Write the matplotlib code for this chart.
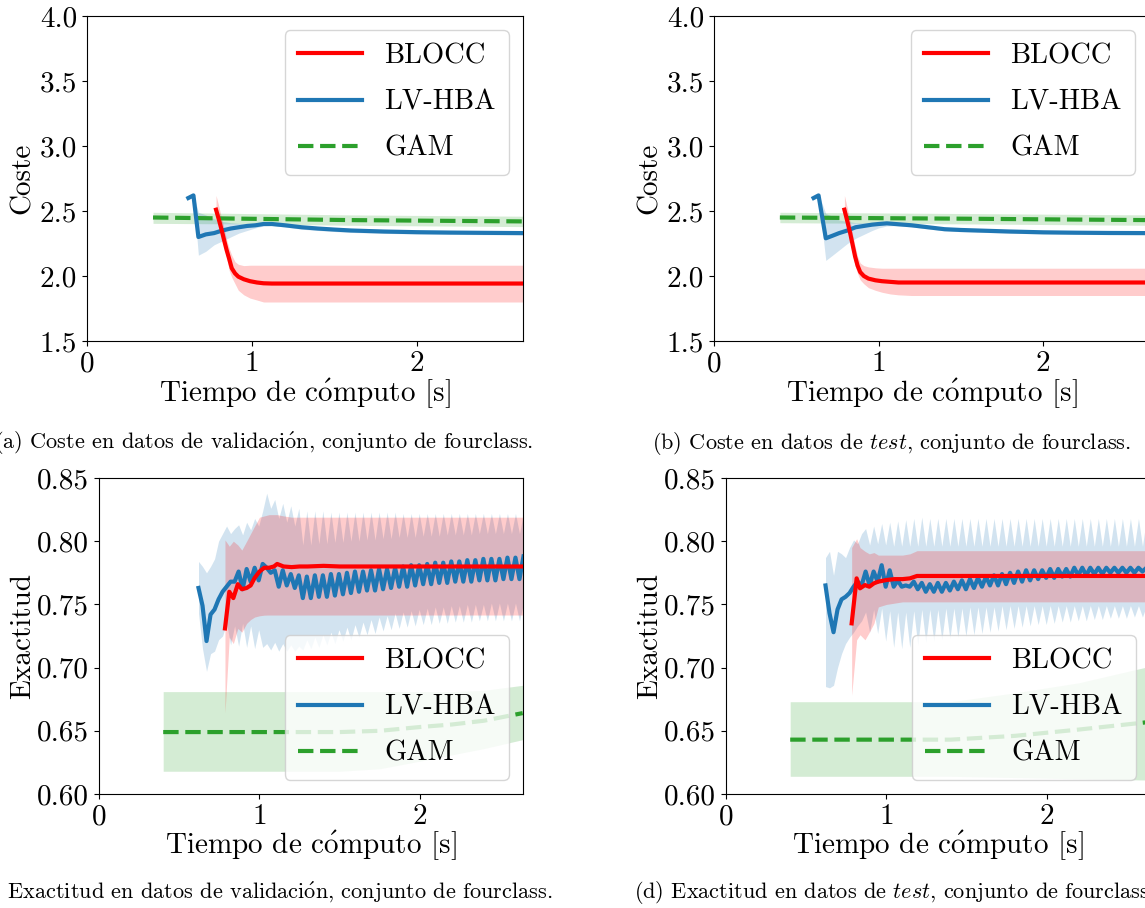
import numpy as np
import matplotlib
matplotlib.use("Agg")
import matplotlib.pyplot as plt

plt.rcParams.update({
    "font.family": "cmr10",
    "mathtext.fontset": "cm",
    "axes.formatter.use_mathtext": True,
    "font.size": 21,
})

RED = "#ff0000"
BLUE = "#1f77b4"
GREEN = "#2ca02c"

# ---------------- (a) Coste, validacion ----------------
a_gam_t = [0.40, 1.0, 1.6, 2.1, 2.64]
a_gam_m = [2.45, 2.44, 2.43, 2.425, 2.42]
a_gam_hi = [2.49, 2.48, 2.47, 2.465, 2.46]
a_gam_lo = [2.405, 2.40, 2.39, 2.385, 2.38]

a_lv_t = [0.614, 0.645, 0.675, 0.72, 0.77, 0.82, 0.87, 0.92, 0.97, 1.02, 1.07,
          1.12, 1.2, 1.3, 1.4, 1.5, 1.6, 1.8, 2.0, 2.2, 2.4, 2.64]
a_lv_m = [2.60, 2.62, 2.30, 2.32, 2.33, 2.35, 2.365, 2.375, 2.385, 2.39, 2.40,
          2.40, 2.39, 2.375, 2.365, 2.357, 2.35, 2.342, 2.337, 2.334, 2.332, 2.33]
a_lv_hi = [2.61, 2.63, 2.49, 2.47, 2.44, 2.42, 2.41, 2.405, 2.40, 2.405, 2.412,
           2.412, 2.403, 2.39, 2.38, 2.372, 2.365, 2.356, 2.35, 2.347, 2.345, 2.343]
a_lv_lo = [2.59, 2.61, 2.16, 2.19, 2.24, 2.27, 2.30, 2.33, 2.35, 2.37, 2.385,
           2.388, 2.377, 2.36, 2.35, 2.342, 2.335, 2.328, 2.323, 2.32, 2.318, 2.316]

a_bl_t = [0.782, 0.80, 0.816, 0.83, 0.846, 0.862, 0.877, 0.897, 0.917, 0.95,
          0.988, 1.03, 1.07, 1.12, 1.2, 1.4, 1.8, 2.2, 2.64]
a_bl_m = [2.51, 2.43, 2.354, 2.28, 2.20, 2.13, 2.06, 2.02, 1.995, 1.975,
          1.96, 1.95, 1.944, 1.942, 1.942, 1.942, 1.942, 1.942, 1.942]
a_bl_hi = [2.62, 2.53, 2.44, 2.37, 2.28, 2.21, 2.16, 2.11, 2.09, 2.08,
           2.083, 2.083, 2.083, 2.083, 2.083, 2.083, 2.083, 2.083, 2.083]
a_bl_lo = [2.46, 2.40, 2.31, 2.24, 2.14, 2.04, 1.99, 1.94, 1.89, 1.855,
           1.83, 1.815, 1.80, 1.80, 1.80, 1.80, 1.80, 1.80, 1.80]

# ---------------- (b) Coste, test ----------------
b_gam_t = [0.40, 1.0, 1.6, 2.1, 2.64]
b_gam_m = [2.45, 2.445, 2.44, 2.435, 2.43]
b_gam_hi = [2.49, 2.485, 2.48, 2.475, 2.47]
b_gam_lo = [2.41, 2.405, 2.40, 2.395, 2.39]

b_lv_t = [0.605, 0.635, 0.679, 0.72, 0.76, 0.81, 0.86, 0.91, 0.96, 1.0, 1.05,
          1.1, 1.2, 1.3, 1.4, 1.5, 1.6, 1.8, 2.0, 2.2, 2.4, 2.64]
b_lv_m = [2.60, 2.62, 2.29, 2.31, 2.33, 2.35, 2.375, 2.385, 2.395, 2.40, 2.405,
          2.40, 2.39, 2.375, 2.36, 2.354, 2.35, 2.342, 2.336, 2.333, 2.331, 2.33]
b_lv_hi = [2.61, 2.63, 2.48, 2.46, 2.43, 2.42, 2.41, 2.41, 2.41, 2.413, 2.418,
           2.413, 2.403, 2.388, 2.373, 2.367, 2.363, 2.355, 2.349, 2.346, 2.344, 2.343]
b_lv_lo = [2.59, 2.61, 2.12, 2.16, 2.20, 2.25, 2.29, 2.32, 2.35, 2.37, 2.385,
           2.387, 2.377, 2.362, 2.347, 2.341, 2.337, 2.329, 2.323, 2.32, 2.318, 2.317]

b_bl_t = [0.792, 0.81, 0.827, 0.842, 0.857, 0.872, 0.888, 0.91, 0.938, 0.98,
          1.02, 1.07, 1.12, 1.2, 1.6, 2.0, 2.64]
b_bl_m = [2.51, 2.42, 2.33, 2.24, 2.15, 2.08, 2.03, 2.00, 1.98, 1.967,
          1.96, 1.955, 1.95, 1.95, 1.95, 1.95, 1.95]
b_bl_hi = [2.62, 2.52, 2.42, 2.32, 2.23, 2.15, 2.10, 2.08, 2.07, 2.063,
           2.06, 2.06, 2.06, 2.06, 2.06, 2.06, 2.06]
b_bl_lo = [2.46, 2.36, 2.26, 2.17, 2.08, 2.02, 1.97, 1.94, 1.91, 1.89,
           1.875, 1.862, 1.855, 1.85, 1.85, 1.85, 1.85]

# ---------------- LV-HBA sampling for accuracy panels ----------------
lv_t0 = 0.62
lv_dt = 0.025

# ---------------- (c) Exactitud, validacion ----------------
c_gam_t = [0.40, 1.0, 1.5, 1.75, 2.0, 2.2, 2.4, 2.64]
c_gam_m = [0.649, 0.649, 0.649, 0.650, 0.653, 0.655, 0.658, 0.664]
c_gam_hi = [0.681, 0.681, 0.681, 0.681, 0.681, 0.681, 0.682, 0.686]
c_gam_lo = [0.618, 0.618, 0.618, 0.620, 0.626, 0.631, 0.636, 0.643]

c_lv_m = [0.763, 0.749, 0.721, 0.742, 0.746, 0.754, 0.760, 0.764, 0.768, 0.768,
          0.776, 0.762, 0.778, 0.768, 0.779, 0.769, 0.782, 0.779, 0.775, 0.777,
          0.764, 0.777, 0.765, 0.774, 0.763, 0.773, 0.755, 0.772, 0.755, 0.773,
          0.756, 0.773, 0.756, 0.774, 0.757, 0.774, 0.758, 0.775, 0.759, 0.776,
          0.760, 0.776, 0.761, 0.777, 0.761, 0.778, 0.762, 0.778, 0.763, 0.779,
          0.764, 0.780, 0.764, 0.781, 0.765, 0.781, 0.766, 0.782, 0.766, 0.783,
          0.767, 0.783, 0.767, 0.784, 0.768, 0.784, 0.768, 0.785, 0.768, 0.785,
          0.769, 0.786, 0.769, 0.786, 0.769, 0.786, 0.770, 0.787, 0.770, 0.787,
          0.770, 0.788]
c_lv_hi = [0.784, 0.780, 0.775, 0.780, 0.786, 0.800, 0.806, 0.812, 0.806, 0.810,
           0.813, 0.805, 0.815, 0.809, 0.818, 0.812, 0.824, 0.838, 0.826, 0.833,
           0.818, 0.830, 0.815, 0.828, 0.812, 0.826, 0.797, 0.824, 0.797, 0.824,
           0.798, 0.824, 0.798, 0.823, 0.799, 0.823, 0.799, 0.823, 0.800, 0.823,
           0.800, 0.823, 0.801, 0.823, 0.801, 0.823, 0.802, 0.823, 0.802, 0.823,
           0.803, 0.822, 0.803, 0.822, 0.803, 0.822, 0.804, 0.822, 0.804, 0.822,
           0.804, 0.822, 0.805, 0.822, 0.805, 0.822, 0.805, 0.822, 0.805, 0.822,
           0.806, 0.822, 0.806, 0.822, 0.806, 0.822, 0.806, 0.822, 0.806, 0.822,
           0.806, 0.822]
c_lv_lo = [0.743, 0.715, 0.697, 0.711, 0.713, 0.722, 0.725, 0.735, 0.718, 0.733,
           0.717, 0.735, 0.716, 0.733, 0.715, 0.730, 0.716, 0.719, 0.714, 0.720,
           0.713, 0.719, 0.713, 0.718, 0.713, 0.717, 0.714, 0.722, 0.715, 0.724,
           0.716, 0.726, 0.718, 0.728, 0.719, 0.730, 0.721, 0.732, 0.722, 0.734,
           0.724, 0.736, 0.726, 0.738, 0.727, 0.740, 0.729, 0.741, 0.730, 0.743,
           0.731, 0.744, 0.732, 0.745, 0.733, 0.746, 0.734, 0.747, 0.734, 0.748,
           0.735, 0.748, 0.735, 0.749, 0.736, 0.749, 0.736, 0.750, 0.736, 0.750,
           0.737, 0.750, 0.737, 0.751, 0.737, 0.751, 0.737, 0.751, 0.737, 0.751,
           0.737, 0.751]

c_bl_t = [0.785, 0.812, 0.837, 0.865, 0.89, 0.92, 0.945, 0.97, 1.0, 1.03, 1.06,
          1.09, 1.11, 1.15, 1.2, 1.25, 1.3, 1.4, 1.5, 1.8, 2.2, 2.64]
c_bl_m = [0.731, 0.760, 0.755, 0.766, 0.762, 0.763, 0.765, 0.771, 0.776, 0.779,
          0.779, 0.780, 0.782, 0.780, 0.7795, 0.780, 0.780, 0.7805, 0.780, 0.780,
          0.780, 0.780]
c_bl_hi = [0.801, 0.796, 0.800, 0.797, 0.793, 0.800, 0.806, 0.812, 0.819, 0.820,
           0.821, 0.821, 0.821, 0.820, 0.819, 0.819, 0.819, 0.819, 0.819, 0.819,
           0.819, 0.819]
c_bl_lo = [0.664, 0.724, 0.719, 0.731, 0.728, 0.735, 0.738, 0.740, 0.741, 0.7415,
           0.7416, 0.7416, 0.7416, 0.7416, 0.7416, 0.7416, 0.7416, 0.7416, 0.7416,
           0.7416, 0.7416, 0.7416]

# ---------------- (d) Exactitud, test ----------------
d_gam_t = [0.40, 1.0, 1.4, 1.8, 2.2, 2.64]
d_gam_m = [0.643, 0.643, 0.643, 0.646, 0.651, 0.657]
d_gam_hi = [0.673, 0.673, 0.673, 0.680, 0.688, 0.701]
d_gam_lo = [0.614, 0.614, 0.614, 0.613, 0.612, 0.611]

d_lv_m = [0.765, 0.743, 0.728, 0.746, 0.754, 0.756, 0.759, 0.764, 0.768, 0.765,
          0.776, 0.765, 0.776, 0.768, 0.781, 0.764, 0.777, 0.764, 0.769, 0.764,
          0.765, 0.764, 0.768, 0.762, 0.767, 0.760, 0.766, 0.760, 0.767, 0.760,
          0.767, 0.761, 0.768, 0.762, 0.769, 0.762, 0.770, 0.763, 0.771, 0.764,
          0.772, 0.765, 0.773, 0.765, 0.774, 0.766, 0.775, 0.767, 0.776, 0.768,
          0.777, 0.769, 0.777, 0.770, 0.777, 0.771, 0.778, 0.771, 0.778, 0.772,
          0.778, 0.772, 0.779, 0.773, 0.779, 0.773, 0.779, 0.774, 0.779, 0.774,
          0.779, 0.775, 0.779, 0.775, 0.779, 0.775, 0.779, 0.775, 0.779, 0.776,
          0.779, 0.776]
d_lv_hi = [0.787, 0.792, 0.773, 0.792, 0.790, 0.787, 0.795, 0.801, 0.798, 0.806,
           0.810, 0.797, 0.812, 0.798, 0.814, 0.797, 0.815, 0.796, 0.816, 0.796,
           0.817, 0.796, 0.818, 0.796, 0.819, 0.796, 0.818, 0.796, 0.818, 0.796,
           0.818, 0.796, 0.818, 0.796, 0.818, 0.796, 0.818, 0.796, 0.818, 0.796,
           0.818, 0.796, 0.818, 0.796, 0.818, 0.796, 0.818, 0.796, 0.818, 0.796,
           0.818, 0.796, 0.818, 0.796, 0.818, 0.796, 0.818, 0.796, 0.818, 0.796,
           0.818, 0.796, 0.818, 0.796, 0.818, 0.796, 0.818, 0.796, 0.818, 0.796,
           0.818, 0.796, 0.818, 0.796, 0.818, 0.796, 0.818, 0.796, 0.818, 0.796,
           0.818, 0.796]
d_lv_lo = [0.685, 0.684, 0.686, 0.700, 0.711, 0.719, 0.724, 0.728, 0.733, 0.737,
           0.744, 0.728, 0.746, 0.727, 0.747, 0.721, 0.745, 0.716, 0.744, 0.715,
           0.744, 0.716, 0.745, 0.718, 0.746, 0.720, 0.746, 0.721, 0.746, 0.722,
           0.747, 0.723, 0.747, 0.724, 0.747, 0.725, 0.748, 0.726, 0.748, 0.727,
           0.748, 0.728, 0.748, 0.729, 0.749, 0.730, 0.749, 0.731, 0.749, 0.732,
           0.749, 0.733, 0.749, 0.734, 0.749, 0.734, 0.749, 0.735, 0.749, 0.736,
           0.749, 0.736, 0.749, 0.737, 0.749, 0.737, 0.749, 0.738, 0.749, 0.738,
           0.749, 0.739, 0.749, 0.739, 0.749, 0.739, 0.749, 0.740, 0.749, 0.740,
           0.749, 0.740]

d_bl_t = [0.783, 0.814, 0.835, 0.866, 0.893, 0.922, 0.949, 1.0, 1.05, 1.1,
          1.146, 1.19, 1.3, 1.6, 2.0, 2.64]
d_bl_m = [0.735, 0.7706, 0.7627, 0.7653, 0.764, 0.7667, 0.768, 0.7693, 0.770,
          0.770, 0.7706, 0.7725, 0.7725, 0.7725, 0.7725, 0.7725]
d_bl_hi = [0.795, 0.802, 0.795, 0.792, 0.790, 0.791, 0.789, 0.789, 0.789, 0.789,
           0.790, 0.7925, 0.7925, 0.7925, 0.7925, 0.7925]
d_bl_lo = [0.678, 0.722, 0.726, 0.722, 0.728, 0.735, 0.748, 0.750, 0.751, 0.752,
           0.752, 0.752, 0.752, 0.752, 0.752, 0.752]

cost_ticks = [1.5, 2.0, 2.5, 3.0, 3.5, 4.0]
acc_ticks = [0.60, 0.65, 0.70, 0.75, 0.80, 0.85]
x_ticks = [0, 1, 2]

captions = [
    r"(a) Coste en datos de validaci$\acute{\mathrm{o}}$n, conjunto de fourclass.",
    r"(b) Coste en datos de $\mathit{test}$, conjunto de fourclass.",
    r"(c) Exactitud en datos de validaci$\acute{\mathrm{o}}$n, conjunto de fourclass.",
    r"(d) Exactitud en datos de $\mathit{test}$, conjunto de fourclass.",
]
xlabel = r"Tiempo de c$\acute{\mathrm{o}}$mputo [s]"

W, H = 1145, 908
fig = plt.figure(figsize=(W / 100, H / 100), dpi=100)


def make_ax(l, r, t, b):
    return fig.add_axes([l / W, 1 - b / H, (r - l) / W, (b - t) / H])


def draw(ax, gam, lv, bl, yticks, fmt, ylabel, loc, ylab_x, xlab_y):
    gt, gm, ghi, glo = gam
    lt, lm, lhi, llo = lv
    bt, bm, bhi, blo = bl
    ax.fill_between(gt, glo, ghi, color=GREEN, alpha=0.2, lw=0, zorder=1)
    ax.fill_between(lt, llo, lhi, color=BLUE, alpha=0.2, lw=0, zorder=1)
    ax.fill_between(bt, blo, bhi, color=RED, alpha=0.2, lw=0, zorder=1)
    hg, = ax.plot(gt, gm, "--", color=GREEN, lw=3, zorder=3, label="GAM")
    hl, = ax.plot(lt, lm, "-", color=BLUE, lw=3, zorder=4, label="LV-HBA")
    hb, = ax.plot(bt, bm, "-", color=RED, lw=3, zorder=5, label="BLOCC")
    ax.set_xlim(0, 2.642)
    ax.set_ylim(yticks[0], yticks[-1])
    ax.set_xticks(x_ticks, labels=[str(v) for v in x_ticks])
    ax.set_yticks(yticks, labels=[fmt.format(v) for v in yticks])
    ax.tick_params(labelsize=21)
    ax.set_xlabel(xlabel, fontsize=21)
    ax.xaxis.set_label_coords(0.5, xlab_y)
    ax.xaxis.label.set_va("center")
    ax.set_ylabel(ylabel, fontsize=21)
    ax.yaxis.set_label_coords(ylab_x, 0.5)
    ax.yaxis.label.set_va("center")
    ax.legend(handles=[hb, hl, hg], loc=loc, fontsize=20.5, handlelength=2.25,
              labelspacing=0.7, borderpad=0.45, framealpha=0.8)


def lv_times(n):
    return lv_t0 + lv_dt * np.arange(n)


ax_a = make_ax(87, 523, 16, 341)
ax_b = make_ax(714, 1149, 16, 341)
ax_c = make_ax(99, 523, 478, 794)
ax_d = make_ax(726, 1150, 478, 794)

draw(ax_a, (a_gam_t, a_gam_m, a_gam_hi, a_gam_lo), (a_lv_t, a_lv_m, a_lv_hi, a_lv_lo),
     (a_bl_t, a_bl_m, a_bl_hi, a_bl_lo), cost_ticks, "{:.1f}", "Coste", "upper right",
     -0.148, -52 / 325)
draw(ax_b, (b_gam_t, b_gam_m, b_gam_hi, b_gam_lo), (b_lv_t, b_lv_m, b_lv_hi, b_lv_lo),
     (b_bl_t, b_bl_m, b_bl_hi, b_bl_lo), cost_ticks, "{:.1f}", "Coste", "upper right",
     -0.147, -52 / 325)
ct = lv_times(len(c_lv_m))
draw(ax_c, (c_gam_t, c_gam_m, c_gam_hi, c_gam_lo), (ct, c_lv_m, c_lv_hi, c_lv_lo),
     (c_bl_t, c_bl_m, c_bl_hi, c_bl_lo), acc_ticks, "{:.2f}", "Exactitud", "lower right",
     -0.180, -51 / 316)
dt_ = lv_times(len(d_lv_m))
draw(ax_d, (d_gam_t, d_gam_m, d_gam_hi, d_gam_lo), (dt_, d_lv_m, d_lv_hi, d_lv_lo),
     (d_bl_t, d_bl_m, d_bl_hi, d_bl_lo), acc_ticks, "{:.2f}", "Exactitud", "lower right",
     -0.179, -51 / 316)

cap_pos = [(-6, 443), (652, 443), (-27, 893), (634, 893)]
for (x, y), txt in zip(cap_pos, captions):
    fig.text(x / W, 1 - y / H, txt, ha="left", va="center", fontsize=16)

fig.savefig("out.png", dpi=100)
